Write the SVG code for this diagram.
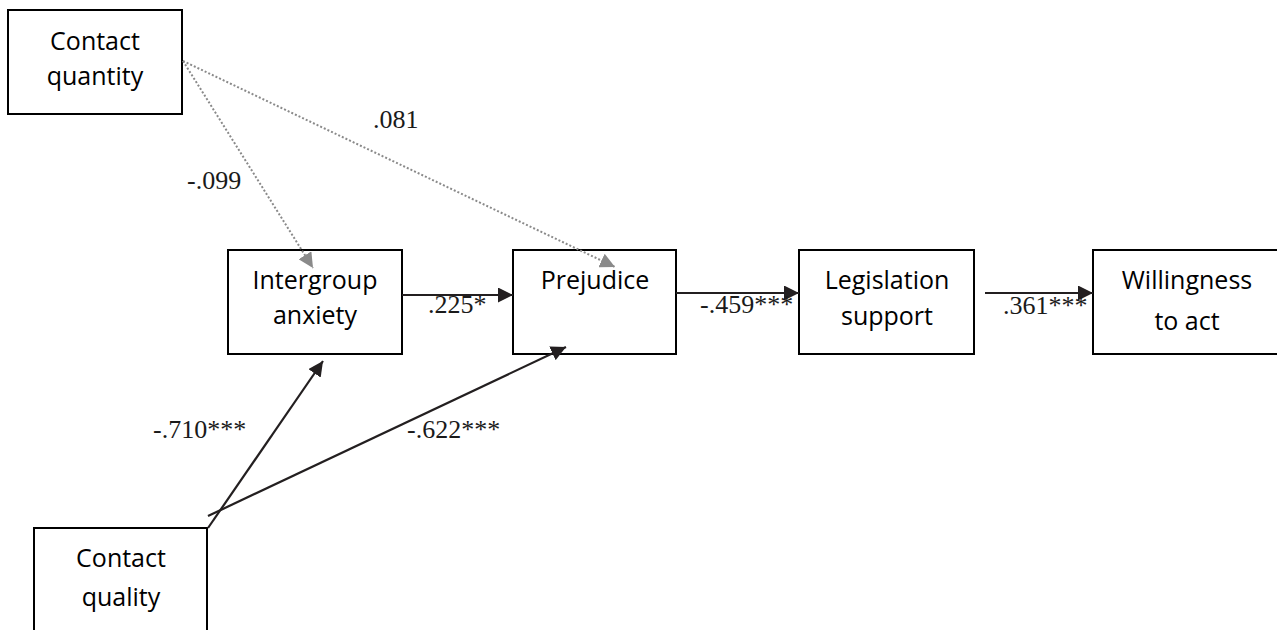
<svg xmlns="http://www.w3.org/2000/svg" width="1277" height="630" viewBox="0 0 1277 630">
  <style>
    .box { fill: #ffffff; stroke: #000000; stroke-width: 2; }
    .lbl { font-family: "Open Sans", "Liberation Sans", sans-serif; font-size: 25px; fill: #000000; text-anchor: middle; }
    .num { font-family: "Liberation Serif", "Times New Roman", serif; font-size: 26px; fill: #1a1a1a; }
    .solid { stroke: #231f20; stroke-width: 2.2; fill: none; marker-end: url(#ah); }
    .dot { stroke: #8a8a8a; stroke-width: 2; fill: none; stroke-dasharray: 2 2; marker-end: url(#ahg); }
  </style>
  <defs>
    <marker id="ah" viewBox="0 0 15 15" refX="15" refY="7.5" markerWidth="15" markerHeight="15" markerUnits="userSpaceOnUse" orient="auto">
      <path d="M0,0 L15,7.5 L0,15 Z" fill="#231f20"/>
    </marker>
    <marker id="ahg" viewBox="0 0 15 15" refX="15" refY="7.5" markerWidth="15" markerHeight="15" markerUnits="userSpaceOnUse" orient="auto">
      <path d="M0,0 L15,7.5 L0,15 Z" fill="#8a8a8a"/>
    </marker>
  </defs>
  <rect width="1277" height="630" fill="#ffffff"/>

  <g id="contact-quantity">
    <rect class="box" x="8" y="10" width="174" height="104"/>
    <text class="lbl" x="95" y="50">Contact</text>
    <text class="lbl" x="95" y="85">quantity</text>
  </g>
  <g id="intergroup-anxiety">
    <rect class="box" x="228" y="250" width="174" height="104"/>
    <text class="lbl" x="315" y="289">Intergroup</text>
    <text class="lbl" x="315" y="324">anxiety</text>
  </g>
  <g id="prejudice">
    <rect class="box" x="513" y="250" width="163" height="104"/>
    <text class="lbl" x="595" y="289">Prejudice</text>
  </g>
  <g id="legislation-support">
    <rect class="box" x="799" y="250" width="175" height="104"/>
    <text class="lbl" x="887" y="289">Legislation</text>
    <text class="lbl" x="887" y="325">support</text>
  </g>
  <g id="willingness">
    <rect class="box" x="1093" y="250" width="190" height="104"/>
    <text class="lbl" x="1187" y="289">Willingness</text>
    <text class="lbl" x="1187" y="330">to act</text>
  </g>
  <g id="contact-quality">
    <rect class="box" x="34" y="528" width="173" height="110"/>
    <text class="lbl" x="121" y="567">Contact</text>
    <text class="lbl" x="121" y="606">quality</text>
  </g>

  <g id="connectors">
    <line class="dot" x1="183" y1="61" x2="313" y2="268"/>
    <line class="dot" x1="183" y1="61" x2="615" y2="267"/>
    <line class="solid" x1="402" y1="295" x2="513" y2="295"/>
    <line class="solid" x1="676" y1="293" x2="799" y2="293"/>
    <line class="solid" x1="985" y1="293" x2="1093" y2="293"/>
    <line class="solid" x1="208" y1="528" x2="323" y2="361"/>
    <line class="solid" x1="208" y1="516" x2="566" y2="347"/>
  </g>

  <g id="labels">
    <text class="num" x="373" y="128">.081</text>
    <text class="num" x="187" y="189">-.099</text>
    <text class="num" x="428" y="313">.225*</text>
    <text class="num" x="700" y="313">-.459***</text>
    <text class="num" x="1003" y="314">.361***</text>
    <text class="num" x="153" y="438">-.710***</text>
    <text class="num" x="407" y="438">-.622***</text>
  </g>
</svg>
